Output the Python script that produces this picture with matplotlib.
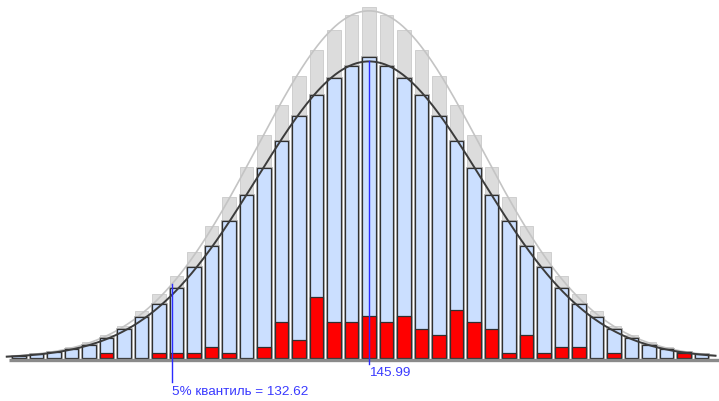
#Import Statements
import matplotlib
matplotlib.use("Agg")
import matplotlib.pyplot as plt
import numpy as N

#Histogram data (frequency per bin)
sampleFreq = [2, 4, 6, 9, 13, 20, 29, 41, 54, 70, 91, 112, 137, 163, 190, 217, 242, 263, 280, 292,
              301,
              292, 280, 263, 242, 217, 190, 163, 137, 112, 91, 70, 54, 41, 29, 20, 13, 9, 6, 4]
theoryFreq = [2.5, 5, 7, 11, 16, 23, 32, 47, 64, 82, 106, 132, 161, 191, 223, 253, 282, 308, 328, 343,
              351,
              343, 328, 308, 282, 253, 223, 191, 161, 132, 106, 82, 64, 47, 32, 23, 16, 11, 7, 5]
redFreq = [0, 0, 0, 0, 0, 5, 0, 0, 5, 5, 5, 11, 5, 0, 11, 36, 18, 61, 36, 36,
           42,
           36, 42, 29, 23, 48, 36, 29, 5, 23, 5, 11, 11, 0, 5, 0, 0, 0, 5, 0]
meanValue = 145.99
quantileValue = 132.62
quantileLabel = "5% квантиль = 132.62"
binWidth = 1.19
firstBin = meanValue - 20*binWidth

#Bin centres
centers = firstBin + binWidth*N.arange(len(sampleFreq))

def normalCurve(freq, xs):
    """
    """
    freq = N.array(freq, dtype=float)
    mu = meanValue
    sigma = N.sqrt(N.sum(freq*(centers-mu)**2)/N.sum(freq))
    amp = N.sum(freq)*binWidth/(sigma*N.sqrt(2*N.pi))
    return amp*N.exp(-0.5*((xs-mu)/sigma)**2)

#Create Plot
fig = plt.figure(figsize=(7.19, 4.02), dpi=100)
axes = fig.add_axes([0, 0, 1, 1])
plt.rcParams['font.family'] = ['Liberation Sans', 'DejaVu Sans']

barW = 0.77*binWidth
#Gray (theoretical) bars in the back
axes.bar(centers, theoryFreq, width=barW, color='#dcdcdc', edgecolor='#cfcfcf', linewidth=0.7, zorder=1)
xs = N.linspace(firstBin - 0.7*binWidth, centers[-1] + 0.8*binWidth, 400)
axes.plot(xs, normalCurve(theoryFreq, xs), color='#c4c4c4', linewidth=1.2, zorder=2)

#Sample bars: light gray halo then dark outline
axes.bar(centers, sampleFreq, width=barW, color='#cbdfff', edgecolor='#b0b0b0', linewidth=2.0, zorder=3)
axes.bar(centers, sampleFreq, width=barW, color='#cbdfff', edgecolor='#303030', linewidth=0.9, zorder=4)
redMask = N.array(redFreq) > 0
axes.bar(centers[redMask], N.array(redFreq)[redMask], width=barW, color='#ff0000',
         edgecolor='#303030', linewidth=0.9, zorder=5)
axes.plot(xs, normalCurve(sampleFreq, xs), color='#3c3c3c', linewidth=1.4, zorder=6)

#Baseline
axes.plot([firstBin - 0.55*binWidth, centers[-1] + 2*binWidth], [-1.6, -1.6], color='#8a8a8a',
          linewidth=2.4, solid_capstyle='butt', zorder=6)

#Mean and quantile markers
peak = normalCurve(sampleFreq, N.array([meanValue]))[0]
axes.plot([meanValue, meanValue], [peak, -6], color='#2b2bff', linewidth=1.0, zorder=7)
axes.text(meanValue + 0.02, -14.2, "%.2f" % meanValue, color='#3a3aff', fontsize=9.7,
          ha='left', va='center', zorder=8)
qTop = normalCurve(theoryFreq, N.array([quantileValue]))[0]
axes.plot([quantileValue, quantileValue], [qTop, -24], color='#2b2bff', linewidth=1.0, zorder=7)
axes.text(quantileValue - 0.02, -32.7, quantileLabel, color='#3a3aff', fontsize=9.7,
          ha='left', va='center', zorder=8)

#Scale to the picture
axes.set_xlim(meanValue - 369*binWidth/17.5, meanValue + 350*binWidth/17.5)
axes.set_ylim(-42.7, 359.3)
axes.set_axis_off()

fig.savefig("out.png", dpi=100)
